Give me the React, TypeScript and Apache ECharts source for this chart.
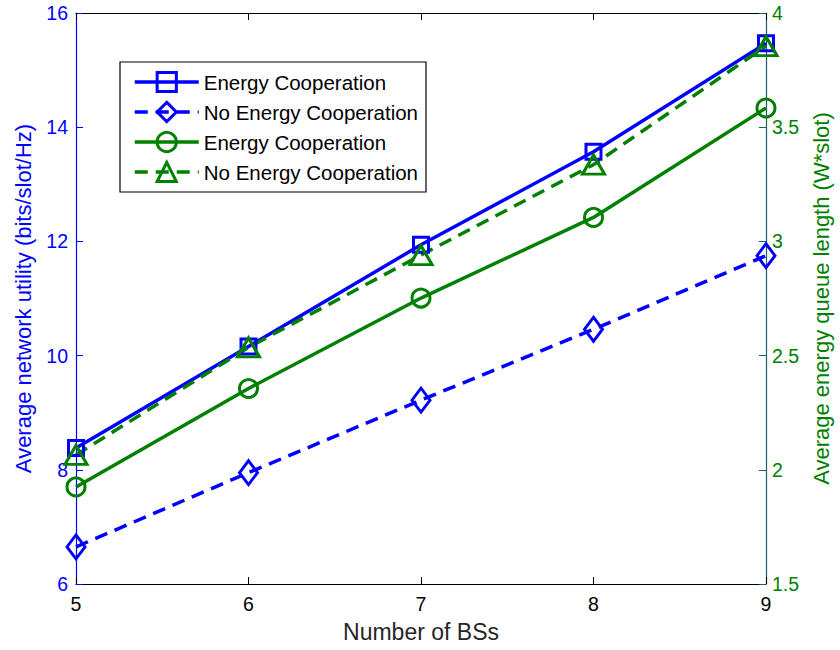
import React, { useEffect, useRef } from "react";
import * as echarts from "echarts";

// Number of base stations on the x axis
const bsCounts = [5, 6, 7, 8, 9];

// Average network utility (bits/slot/Hz), left axis
const utilityCoop = [8.38, 10.16, 11.94, 13.57, 15.47];
const utilityNoCoop = [6.65, 7.95, 9.22, 10.46, 11.75];

// Average energy queue length (W*slot), right axis
const queueCoop = [1.925, 2.356, 2.752, 3.105, 3.584];
const queueNoCoop = [2.065, 2.536, 2.94, 3.336, 3.855];

const seriesNames = [
  "Energy Cooperation",
  "No Energy Cooperation",
  "Energy Cooperation ",
  "No Energy Cooperation ",
];

const BLUE = "#0000ff";
const GREEN = "#008000";
const RIGHT_AXIS = "#1f5e6c";
const FONT = "'Liberation Sans', Arial, Helvetica, sans-serif";

const pairs = (ys: number[]) => bsCounts.map((x, i) => [x, ys[i]]);

export default function App() {
  const ref = useRef<HTMLDivElement>(null);

  useEffect(() => {
    if (!ref.current) return;
    const chart = echarts.init(ref.current, undefined, { renderer: "svg" });

    const lineSeries = (
      name: string,
      data: number[][],
      yAxisIndex: number,
      color: string,
      dashed: boolean,
      symbol: string,
      symbolSize: number | number[]
    ) => ({
      name,
      type: "line",
      data,
      yAxisIndex,
      symbol,
      symbolSize,
      showAllSymbol: true,
      lineStyle: {
        color,
        width: 3.5,
        type: dashed ? [13, 8] : "solid",
      },
      itemStyle: {
        color: "rgba(255,255,255,0)",
        borderColor: color,
        borderWidth: 3,
      },
      emphasis: { disabled: true },
    });

    chart.setOption({
      animation: false,
      backgroundColor: "#ffffff",
      textStyle: { fontFamily: FONT },
      grid: { left: 76, right: 72, top: 13, bottom: 66, containLabel: false },
      legend: {
        orient: "vertical",
        left: 120,
        top: 62,
        padding: [7, 8, 7, 13],
        itemWidth: 64,
        itemHeight: 24,
        itemGap: 4,
        backgroundColor: "#ffffff",
        borderColor: "#000000",
        borderWidth: 1.2,
        borderRadius: 0,
        lineStyle: { width: 3.5, type: "inherit" },
        itemStyle: { borderWidth: 3 },
        textStyle: {
          fontFamily: FONT,
          fontSize: 20.5,
          color: "#000000",
          lineHeight: 26,
        },
        formatter: (n: string) => n.trim(),
        data: seriesNames,
      },
      xAxis: [
        {
          type: "value",
          min: 5,
          max: 9,
          interval: 1,
          name: "Number of BSs",
          nameLocation: "middle",
          nameGap: 36,
          nameTextStyle: { fontFamily: FONT, fontSize: 23, color: "#262626" },
          axisLine: { show: true, onZero: false, lineStyle: { color: "#000000", width: 1.2 } },
          axisTick: { show: true, inside: true, length: 7, lineStyle: { color: "#000000" } },
          axisLabel: { fontFamily: FONT, fontSize: 19.5, color: "#000000", margin: 10 },
          splitLine: { show: false },
        },
        {
          type: "value",
          position: "top",
          min: 5,
          max: 9,
          interval: 1,
          axisLine: { show: true, onZero: false, lineStyle: { color: "#000000", width: 1.2 } },
          axisTick: { show: true, inside: true, length: 7, lineStyle: { color: "#000000" } },
          axisLabel: { show: false },
          splitLine: { show: false },
        },
      ],
      yAxis: [
        {
          type: "value",
          position: "left",
          min: 6,
          max: 16,
          interval: 2,
          name: "Average network utility (bits/slot/Hz)",
          nameLocation: "middle",
          nameGap: 42,
          nameTextStyle: { fontFamily: FONT, fontSize: 22, color: BLUE },
          axisLine: { show: true, onZero: false, lineStyle: { color: BLUE, width: 1.2 } },
          axisTick: { show: true, inside: true, length: 7, lineStyle: { color: BLUE } },
          axisLabel: { fontFamily: FONT, fontSize: 19.5, color: BLUE, margin: 8 },
          splitLine: { show: false },
        },
        {
          type: "value",
          position: "right",
          min: 1.5,
          max: 4,
          interval: 0.5,
          name: "Average energy queue length (W*slot)",
          nameLocation: "middle",
          nameGap: 44,
          nameRotate: 90,
          nameTextStyle: { fontFamily: FONT, fontSize: 22, color: GREEN },
          axisLine: { show: true, onZero: false, lineStyle: { color: RIGHT_AXIS, width: 1.2 } },
          axisTick: { show: true, inside: true, length: 7, lineStyle: { color: RIGHT_AXIS } },
          axisLabel: { fontFamily: FONT, fontSize: 19.5, color: GREEN, margin: 6 },
          splitLine: { show: false },
        },
      ],
      series: [
        lineSeries(seriesNames[0], pairs(utilityCoop), 0, BLUE, false, "rect", 15),
        lineSeries(seriesNames[1], pairs(utilityNoCoop), 0, BLUE, true, "diamond", [18, 24]),
        lineSeries(seriesNames[2], pairs(queueCoop), 1, GREEN, false, "circle", 18),
        lineSeries(seriesNames[3], pairs(queueNoCoop), 1, GREEN, true, "triangle", [22, 19]),
      ],
    });

    return () => chart.dispose();
  }, []);

  return (
    <div
      ref={ref}
      style={{ position: "absolute", left: 0, top: 0, width: 840, height: 650 }}
    />
  );
}
